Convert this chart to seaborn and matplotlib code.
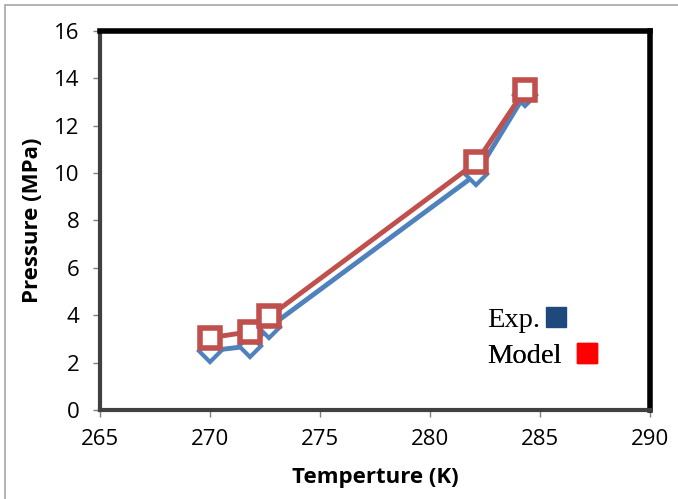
import matplotlib
matplotlib.use("Agg")
import matplotlib.pyplot as plt
import seaborn as sns
import pandas as pd
from matplotlib.lines import Line2D
from matplotlib.patches import Rectangle

temps_exp = [270.0, 271.8, 272.7, 282.1, 284.3]
press_exp = [2.5, 2.7, 3.5, 9.95, 13.3]
temps_model = [270.0, 271.8, 272.7, 282.1, 284.3]
press_model = [3.05, 3.3, 3.95, 10.45, 13.5]
x_ticks = [265, 270, 275, 280, 285, 290]
y_ticks = [0, 2, 4, 6, 8, 10, 12, 14, 16]
legend_labels = ["Exp.", "Model"]
legend_colors = ["#1F497D", "#FF0000"]

sns.set_style("white")
plt.rcParams['font.family'] = ['Open Sans', 'DejaVu Sans']
plt.rcParams['text.color'] = 'black'
plt.rcParams['axes.labelcolor'] = 'black'
plt.rcParams['xtick.color'] = 'black'
plt.rcParams['ytick.color'] = 'black'

df_exp = pd.DataFrame({"T": temps_exp, "P": press_exp})
df_mod = pd.DataFrame({"T": temps_model, "P": press_model})

fig = plt.figure(figsize=(6.78, 4.99), dpi=100)
fig.patches.append(Rectangle((0.007, -0.01), 1.0, 1.0, transform=fig.transFigure,
                             fill=False, edgecolor="#A6A6A6", linewidth=1.2))
ax = fig.add_axes([0.1475, 0.1784, 0.8112, 0.7595])

sns.lineplot(data=df_exp, x="T", y="P", ax=ax, color="#4F81BD", linewidth=3.5,
             marker="D", markersize=11, markerfacecolor="white",
             markeredgecolor="#4F81BD", markeredgewidth=3, sort=False)
sns.lineplot(data=df_mod, x="T", y="P", ax=ax, color="#C0504D", linewidth=3.5,
             marker="s", markersize=15, markerfacecolor="white",
             markeredgecolor="#C0504D", markeredgewidth=4, sort=False)

ax.set_xlim(265, 290)
ax.set_ylim(0, 16)
ax.set_xticks(x_ticks)
ax.set_yticks(y_ticks)
ax.tick_params(axis="both", labelsize=16, length=5, width=1, color="#808080",
               labelcolor="black", direction="out", bottom=True, left=True)
ax.tick_params(axis="x", pad=9)
ax.tick_params(axis="y", pad=10)
ax.set_xlabel("Temperture (K)", fontsize=16, fontweight="bold", labelpad=12)
ax.set_ylabel("Pressure (MPa)", fontsize=16, fontweight="bold", labelpad=8)

for side in ["top", "right"]:
    ax.spines[side].set_color("black")
    ax.spines[side].set_linewidth(4)
for side in ["left", "bottom"]:
    ax.spines[side].set_color("#404040")
    ax.spines[side].set_linewidth(3)

anchors = [(487 / 678, 1 - 320 / 499), (487 / 678, 1 - 356 / 499)]
pads = [0.05, 0.4]
for lab, col, anc, pad in zip(legend_labels, legend_colors, anchors, pads):
    h = Line2D([], [], linestyle="none", marker="s", markersize=15,
               markerfacecolor=col, markeredgecolor=col)
    leg = ax.legend([h], [lab], loc="center left", bbox_to_anchor=anc,
                    bbox_transform=fig.transFigure, frameon=False,
                    markerfirst=False, handletextpad=pad, handlelength=1.0,
                    borderpad=0, borderaxespad=0,
                    prop={"family": "Liberation Serif", "size": 20.5})
    ax.add_artist(leg)

fig.savefig("out.png", dpi=100)
